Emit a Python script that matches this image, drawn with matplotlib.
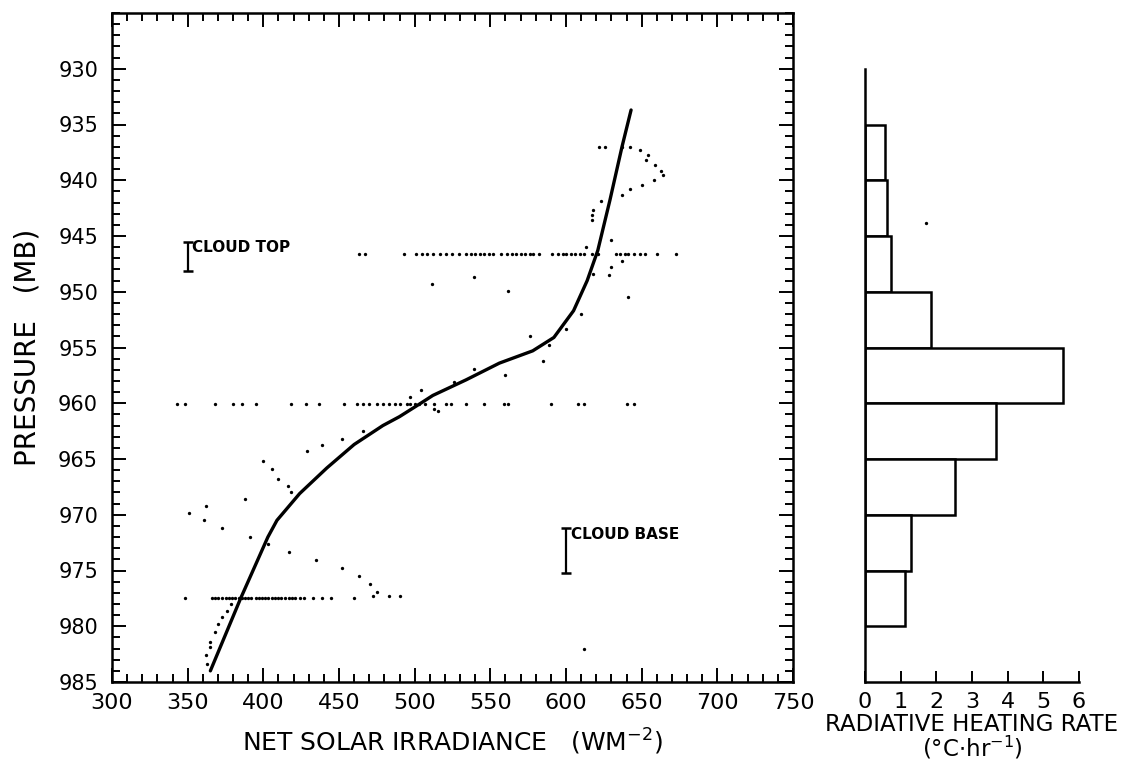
import matplotlib
matplotlib.use("Agg")
import matplotlib.pyplot as plt
from matplotlib.ticker import MultipleLocator

# fitted profile (solid line)
curve_irr = [365, 385, 403, 409, 424, 442, 460, 479, 490, 504, 512, 534, 556,
             578, 592, 605, 614, 621, 629, 637, 643]
curve_p = [984, 977.5, 972, 970.5, 968.1, 965.8, 963.7, 962, 961.2, 960, 959.3,
           957.9, 956.4, 955.3, 954.1, 951.7, 949, 946.3, 941.8, 937, 933.7]

# aircraft legs (horizontal rows of dots)
top_leg_p = 946.6
top_leg_irr = [463, 467, 493, 501, 505, 508, 512, 517, 521, 525, 529, 534, 537,
               540, 543, 546, 549, 552, 557, 561, 564, 567, 570, 573, 576, 578,
               582, 591, 595, 598, 600, 603, 606, 609, 612, 617, 621, 633, 636,
               639, 641, 645, 649, 652, 660, 673]
mid_leg_p = 960.1
mid_leg_irr = [343, 348, 368, 380, 386, 395, 418, 428, 437, 453, 462, 466, 470,
               475, 479, 483, 487, 490, 495, 497, 500, 503, 507, 513, 521, 524,
               534, 546, 559, 562, 590, 608, 612, 640, 645]
low_leg_p = 977.5
low_leg_irr = [348, 366, 368, 370, 373, 375, 377, 379, 381, 384, 386, 388, 390,
               392, 395, 397, 399, 401, 403, 406, 408, 410, 412, 414, 417, 419,
               421, 424, 427, 433, 439, 445, 460]

# profile soundings (scattered dots)
sound_irr = [622, 626, 637, 642, 649, 654, 653, 659, 663, 664, 658, 650, 642,
             637, 623, 618, 617.5, 617, 630, 613.5, 637, 630, 628.5, 618, 641,
             539, 511.5, 562,
             610, 600, 576, 589, 585, 539, 560, 526, 504, 497, 515.5, 513,
             466, 452, 438.5, 428.6, 400, 406, 410, 416.5, 418, 388, 362, 351,
             361, 372.5, 391, 403, 417, 435, 452, 463, 470.5, 475, 472.7, 483,
             490,
             378.4, 375.8, 372.5, 370.3, 368.1, 364.8, 364.8, 362.1, 363, 612]
sound_p = [937, 937, 937, 937, 937.3, 937.7, 938.2, 938.6, 939.2, 939.5, 940,
           940.4, 940.8, 941.3, 941.9, 942.7, 943.1, 943.6, 945.4, 946, 947.2,
           947.8, 948.5, 948.4, 950.5,
           948.7, 949.3, 949.9,
           952, 953.3, 954, 954.8, 956.2, 956.9, 957.5, 958.1, 958.8, 959.4,
           960.7, 960.5,
           962.5, 963.2, 963.7, 964.3, 965.2, 965.9, 966.8, 967.4, 968, 968.6,
           969.2, 969.8, 970.5, 971.2, 972, 972.6, 973.3, 974.1, 974.8, 975.5,
           976.2, 976.9, 977.3, 977.3, 977.3,
           978, 978.6, 979.2, 979.8, 980.5, 981.4, 981.9, 982.6, 983.4, 982]

# cloud boundaries (irradiance, p_top, p_bottom)
cloud_top = (350, 945.5, 948.1)
cloud_base = (600, 971.2, 975.2)

# heating rate per 5 mb layer
layer_top = [935, 940, 945, 950, 955, 960, 965, 970, 975]
heating = [0.56, 0.62, 0.73, 1.85, 5.55, 3.67, 2.52, 1.29, 1.12]

W, H = 1147, 768
fig = plt.figure(figsize=(W / 100, H / 100), dpi=100)

# --- left panel: irradiance profile
ax = fig.add_axes([112 / W, 1 - 682 / H, 681 / W, 669 / H])
ax.plot(curve_irr, curve_p, color="black", lw=2.4, solid_capstyle="round")
dot_kw = dict(ls="none", marker="o", ms=2.4, color="black", mew=0)
ax.plot(top_leg_irr, [top_leg_p] * len(top_leg_irr), **dot_kw)
ax.plot(mid_leg_irr, [mid_leg_p] * len(mid_leg_irr), **dot_kw)
ax.plot(low_leg_irr, [low_leg_p] * len(low_leg_irr), **dot_kw)
ax.plot(sound_irr, sound_p, **dot_kw)

for (xc, p0, p1), name in [(cloud_top, "CLOUD TOP"), (cloud_base, "CLOUD BASE")]:
    ax.errorbar([xc], [(p0 + p1) / 2], yerr=[[(p1 - p0) / 2]], fmt="none",
                ecolor="black", elinewidth=1.6, capsize=3.8, capthick=1.8)
    ax.text(xc + 3, p0 - 0.1, name, fontsize=11, fontweight="bold",
            va="top", ha="left")

ax.set_xlim(300, 750)
ax.set_ylim(985, 925)
ax.set_xticks(range(300, 751, 50))
ax.set_yticks(range(930, 986, 5))
ax.xaxis.set_minor_locator(MultipleLocator(10))
ax.yaxis.set_minor_locator(MultipleLocator(1))
ax.tick_params(which="both", direction="in", top=True, right=True, width=1.4)
ax.tick_params(which="major", length=10)
ax.tick_params(which="minor", length=5.5)
ax.tick_params(axis="x", labelsize=16, pad=8)
ax.tick_params(axis="y", labelsize=15, pad=10)
for s in ax.spines.values():
    s.set_linewidth(1.8)
ax.set_xlabel("NET SOLAR IRRADIANCE   (WM$^{-2}$)", fontsize=18, labelpad=10)
ax.set_ylabel("PRESSURE   (MB)", fontsize=20, labelpad=12)

# --- right panel: heating rate histogram
ax2 = fig.add_axes([865 / W, 1 - 682 / H, 214 / W, 669 / H])
centers = [t + 2.5 for t in layer_top]
ax2.barh(centers, heating, height=5, left=0, color="white",
         edgecolor="black", linewidth=1.8)
ax2.plot([1.71], [943.8], **dot_kw)
ax2.set_xlim(0, 6)
ax2.set_ylim(985, 925)
ax2.spines["top"].set_visible(False)
ax2.spines["right"].set_visible(False)
ax2.spines["left"].set_bounds(930, 985)
ax2.spines["left"].set_linewidth(1.8)
ax2.spines["bottom"].set_linewidth(1.8)
ax2.set_yticks([])
ax2.set_xticks(range(0, 7))
ax2.tick_params(axis="x", direction="in", length=8, width=1.4,
                labelsize=16, pad=7)
ax2.set_xlabel("RADIATIVE HEATING RATE\n(°C$\\cdot$hr$^{-1}$)", fontsize=16.5,
               linespacing=0.9, labelpad=1)

fig.savefig("out.png", dpi=100)
